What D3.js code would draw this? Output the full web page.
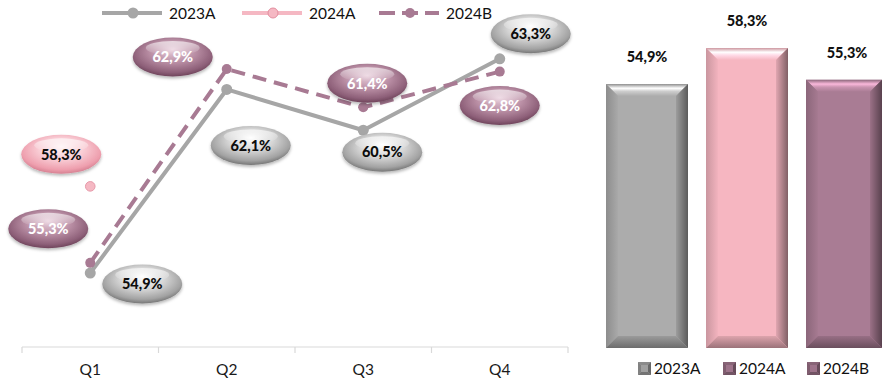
<!DOCTYPE html>
<html>
<head>
<meta charset="utf-8">
<script src="https://cdn.jsdelivr.net/npm/d3@7"></script>
<style>
  html, body { margin: 0; padding: 0; background: #ffffff; }
  svg { display: block; font-family: Lato, "Open Sans", sans-serif; }
</style>
</head>
<body>
<svg id="chart" width="883" height="382"></svg>
<script>
// ---- data ----
const categories = ["Q1", "Q2", "Q3", "Q4"];
const seriesNames = ["2023A", "2024A", "2024B"];
const values2023A = [54.9, 62.1, 60.5, 63.3];
const values2024A = [58.3, null, null, null];
const values2024B = [55.3, 62.9, 61.4, 62.8];
const barValues = [54.9, 58.3, 55.3];

// ---- styling ----
const palette = {
  "2023A": { line: "#a6a6a6", base: "#acacac" },
  "2024A": { line: "#f5b8c3", base: "#f6b6c1" },
  "2024B": { line: "#a87a93", base: "#a97c94" }
};
// label bubble placement relative to its point (dx, dy)
const labelOffsets = {
  "2023A": [[52, 11], [24, 56], [19, 22], [31, -25]],
  "2024A": [[-29, -32], null, null, null],
  "2024B": [[-42, -34], [-54, -12], [4, -24], [0, 34]]
};
const bubbleStyle = {
  "2023A": { stops: ["#ffffff", "#d6d6d6", "#a2a2a2", "#666666"], text: "#0d0d0d" },
  "2024A": { stops: ["#fff3f5", "#f9cdd5", "#ee9fae", "#cc7486"], text: "#0d0d0d" },
  "2024B": { stops: ["#e9cfdc", "#bb90a6", "#8e6079", "#633a50"], text: "#ffffff" }
};

const fmt = v => v.toFixed(1).replace(".", ",") + "%";
const svg = d3.select("#chart");
const defs = svg.append("defs");

// soft shadow for the bubbles
const sh = defs.append("filter").attr("id", "shadow")
  .attr("x", "-20%").attr("y", "-20%").attr("width", "140%").attr("height", "160%");
sh.append("feDropShadow").attr("dx", 0).attr("dy", 2).attr("stdDeviation", 1.6)
  .attr("flood-color", "#000").attr("flood-opacity", 0.28);

// radial gradients for bubbles
seriesNames.forEach(s => {
  const g = defs.append("radialGradient").attr("id", "bub-" + s)
    .attr("cx", "50%").attr("cy", "42%").attr("r", "62%")
    .attr("fx", "50%").attr("fy", "30%");
  const st = bubbleStyle[s].stops;
  [[0, st[0]], [0.45, st[1]], [0.8, st[2]], [1, st[3]]].forEach(([o, c]) =>
    g.append("stop").attr("offset", o).attr("stop-color", c));
});
const hl = defs.append("linearGradient").attr("id", "bubHighlight")
  .attr("x1", 0).attr("y1", 0).attr("x2", 0).attr("y2", 1);
hl.append("stop").attr("offset", 0).attr("stop-color", "#fff").attr("stop-opacity", 0.85);
hl.append("stop").attr("offset", 1).attr("stop-color", "#fff").attr("stop-opacity", 0);

// ================= line chart =================
const lineLeft = 22, lineRight = 568, axisY = 347;
const x = d3.scaleBand().domain(categories).range([lineLeft, lineRight]).padding(0);
const y = d3.scaleLinear().domain([52, 64]).range([axisY, 41]);
const cx = c => x(c) + x.bandwidth() / 2;

// category axis
const axisG = svg.append("g").attr("transform", `translate(0,${axisY})`);
axisG.append("line").attr("x1", lineLeft).attr("x2", lineRight)
  .attr("stroke", "#d9d9d9").attr("stroke-width", 1.2);
const boundaries = categories.map(c => x(c)).concat([x(categories[categories.length - 1]) + x.bandwidth()]);
axisG.selectAll("line.tick").data(boundaries).join("line").attr("class", "tick")
  .attr("x1", d => d).attr("x2", d => d).attr("y1", 0).attr("y2", 6)
  .attr("stroke", "#d9d9d9").attr("stroke-width", 1.2);
axisG.selectAll("text").data(categories).join("text")
  .attr("x", d => cx(d)).attr("y", 28).attr("text-anchor", "middle")
  .attr("font-size", 15.5).attr("fill", "#1a1a1a").text(d => d);

const seriesData = {
  "2023A": values2023A,
  "2024A": values2024A,
  "2024B": values2024B
};
const lineGen = d3.line().defined(d => d.v != null).x(d => cx(d.c)).y(d => y(d.v));
const pts = s => categories.map((c, i) => ({ c, v: seriesData[s][i], i, s }));

// 2023A solid
svg.append("path").datum(pts("2023A")).attr("d", lineGen)
  .attr("fill", "none").attr("stroke", palette["2023A"].line).attr("stroke-width", 4)
  .attr("stroke-linejoin", "round");
svg.selectAll("circle.p23").data(pts("2023A")).join("circle").attr("class", "p23")
  .attr("cx", d => cx(d.c)).attr("cy", d => y(d.v)).attr("r", 5.5)
  .attr("fill", palette["2023A"].line);

// 2024B dashed
svg.append("path").datum(pts("2024B")).attr("d", lineGen)
  .attr("fill", "none").attr("stroke", palette["2024B"].line).attr("stroke-width", 4)
  .attr("stroke-dasharray", "14,8").attr("stroke-linejoin", "round");
svg.selectAll("circle.p24b").data(pts("2024B")).join("circle").attr("class", "p24b")
  .attr("cx", d => cx(d.c)).attr("cy", d => y(d.v)).attr("r", 5)
  .attr("fill", palette["2024B"].line);

// 2024A single point
svg.append("path").datum(pts("2024A")).attr("d", lineGen)
  .attr("fill", "none").attr("stroke", palette["2024A"].line).attr("stroke-width", 4);
svg.selectAll("circle.p24a").data(pts("2024A").filter(d => d.v != null)).join("circle").attr("class", "p24a")
  .attr("cx", d => cx(d.c)).attr("cy", d => y(d.v)).attr("r", 4.8)
  .attr("fill", palette["2024A"].line).attr("stroke", "#e79aaa").attr("stroke-width", 1);

// value bubbles
const bubbles = [];
seriesNames.forEach(s => pts(s).forEach(d => {
  const off = labelOffsets[s][d.i];
  if (d.v != null && off) bubbles.push({ ...d, bx: cx(d.c) + off[0], by: y(d.v) + off[1] });
}));
const bub = svg.selectAll("g.bubble").data(bubbles).join("g").attr("class", "bubble")
  .attr("transform", d => `translate(${d.bx},${d.by})`);
bub.append("ellipse").attr("rx", 40).attr("ry", 19.5)
  .attr("fill", d => `url(#bub-${d.s})`).attr("filter", "url(#shadow)");
bub.append("ellipse").attr("cy", -9).attr("rx", 27).attr("ry", 7)
  .attr("fill", "url(#bubHighlight)").attr("opacity", 0.75);
bub.append("text").attr("text-anchor", "middle").attr("dy", "0.36em")
  .attr("font-size", 14.5).attr("font-weight", 900)
  .attr("fill", d => bubbleStyle[d.s].text).text(d => fmt(d.v));

// top legend
const legendItems = [
  { s: "2023A", x0: 102, dash: null, mk: 5.5 },
  { s: "2024A", x0: 242, dash: null, mk: 5 },
  { s: "2024B", x0: 379, dash: "16,7", mk: 5 }
];
const lg = svg.selectAll("g.legtop").data(legendItems).join("g").attr("class", "legtop")
  .attr("transform", d => `translate(${d.x0},13)`);
lg.append("line").attr("x1", 0).attr("x2", 60).attr("y1", 0).attr("y2", 0)
  .attr("stroke", d => palette[d.s].line).attr("stroke-width", 4)
  .attr("stroke-dasharray", d => d.dash);
lg.append("circle").attr("cx", 31).attr("r", d => d.mk)
  .attr("fill", d => palette[d.s].line)
  .attr("stroke", d => d.s === "2024A" ? "#e38e9f" : "none").attr("stroke-width", 1);
lg.append("text").attr("x", 67).attr("dy", "0.36em").attr("font-size", 15.5)
  .attr("fill", "#111").text(d => d.s);

// ================= bar chart =================
const barClipRight = 882, barBase = 348;
const xb = d3.scaleBand().domain(seriesNames).range([597, 897]).paddingInner(0.18).paddingOuter(0.09);
const yb = d3.scaleLinear().domain([30, 60]).range([barBase, 30]);

const shade = (c, k) => d3.color(c).darker(k).formatHex();
const tint = (c, k) => d3.color(c).brighter(k).formatHex();

function gradient(id, dir, stops) {
  const g = defs.append("linearGradient").attr("id", id);
  const v = { top: [0, 0, 0, 1], bottom: [0, 1, 0, 0], left: [0, 0, 1, 0], right: [1, 0, 0, 0] }[dir];
  g.attr("x1", v[0]).attr("y1", v[1]).attr("x2", v[2]).attr("y2", v[3]);
  stops.forEach(([o, c]) => g.append("stop").attr("offset", o).attr("stop-color", c));
}

seriesNames.forEach(s => {
  const b = palette[s].base;
  gradient("bt-" + s, "top", [[0, shade(b, 0.5)], [0.35, tint(b, 1.1)], [0.6, tint(b, 0.5)], [1, b]]);
  gradient("bl-" + s, "left", [[0, shade(b, 0.55)], [1, shade(b, 0.05)]]);
  gradient("br-" + s, "right", [[0, shade(b, 1.8)], [1, shade(b, 0.25)]]);
  gradient("bb-" + s, "bottom", [[0, shade(b, 1.3)], [1, shade(b, 0.3)]]);
});

// one bar with a bevelled frame (top, left, right, bottom facets)
function bevelBar(d) {
  const x0 = xb(d.s), w = Math.min(xb.bandwidth(), barClipRight - x0);
  const y0 = yb(d.v), h = barBase - y0, bv = 12, x1 = x0 + w, y1 = barBase;
  const sel = d3.select(this);
  sel.append("rect").attr("x", x0).attr("y", y0).attr("width", w).attr("height", h)
    .attr("fill", palette[d.s].base);
  const poly = (p, fill) => sel.append("polygon").attr("points", p.map(q => q.join(",")).join(" ")).attr("fill", fill);
  poly([[x0, y0], [x1, y0], [x1 - bv, y0 + bv], [x0 + bv, y0 + bv]], `url(#bt-${d.s})`);
  poly([[x0, y0], [x0 + bv, y0 + bv], [x0 + bv, y1 - bv], [x0, y1]], `url(#bl-${d.s})`);
  poly([[x1, y0], [x1, y1], [x1 - bv, y1 - bv], [x1 - bv, y0 + bv]], `url(#br-${d.s})`);
  poly([[x0, y1], [x0 + bv, y1 - bv], [x1 - bv, y1 - bv], [x1, y1]], `url(#bb-${d.s})`);
}

const barData = seriesNames.map((s, i) => ({ s, v: barValues[i] }));
svg.selectAll("g.bar").data(barData).join("g").attr("class", "bar").each(bevelBar);
svg.selectAll("text.barlab").data(barData).join("text").attr("class", "barlab")
  .attr("x", d => xb(d.s) + xb.bandwidth() / 2).attr("y", d => yb(d.v) - 27)
  .attr("dy", "0.36em").attr("text-anchor", "middle")
  .attr("font-size", 14.5).attr("font-weight", 900).attr("fill", "#111")
  .text(d => fmt(d.v));

// bottom legend with bevelled swatches
const swatchColor = ["2023A", "2024B", "2024B"];
const legB = [638, 723, 807];
const lb = svg.selectAll("g.legbot").data(seriesNames).join("g").attr("class", "legbot")
  .attr("transform", (d, i) => `translate(${legB[i]},362)`);
lb.each(function (d, i) {
  const g = d3.select(this), c = palette[swatchColor[i]].base, k = 13, bv = 3;
  g.append("rect").attr("width", k).attr("height", k).attr("fill", shade(c, 0.2));
  g.append("polygon").attr("points", `0,0 ${k},0 ${k - bv},${bv} ${bv},${bv}`).attr("fill", shade(c, 0.6));
  g.append("polygon").attr("points", `${k},0 ${k},${k} ${k - bv},${k - bv} ${k - bv},${bv}`).attr("fill", shade(c, 1.4));
  g.append("polygon").attr("points", `0,${k} ${bv},${k - bv} ${k - bv},${k - bv} ${k},${k}`).attr("fill", shade(c, 1.1));
  g.append("polygon").attr("points", `0,0 ${bv},${bv} ${bv},${k - bv} 0,${k}`).attr("fill", shade(c, 0.8));
});
lb.append("text").attr("x", 16).attr("y", 6.5).attr("dy", "0.36em")
  .attr("font-size", 15.5).attr("fill", "#111").text(d => d);
</script>
</body>
</html>
